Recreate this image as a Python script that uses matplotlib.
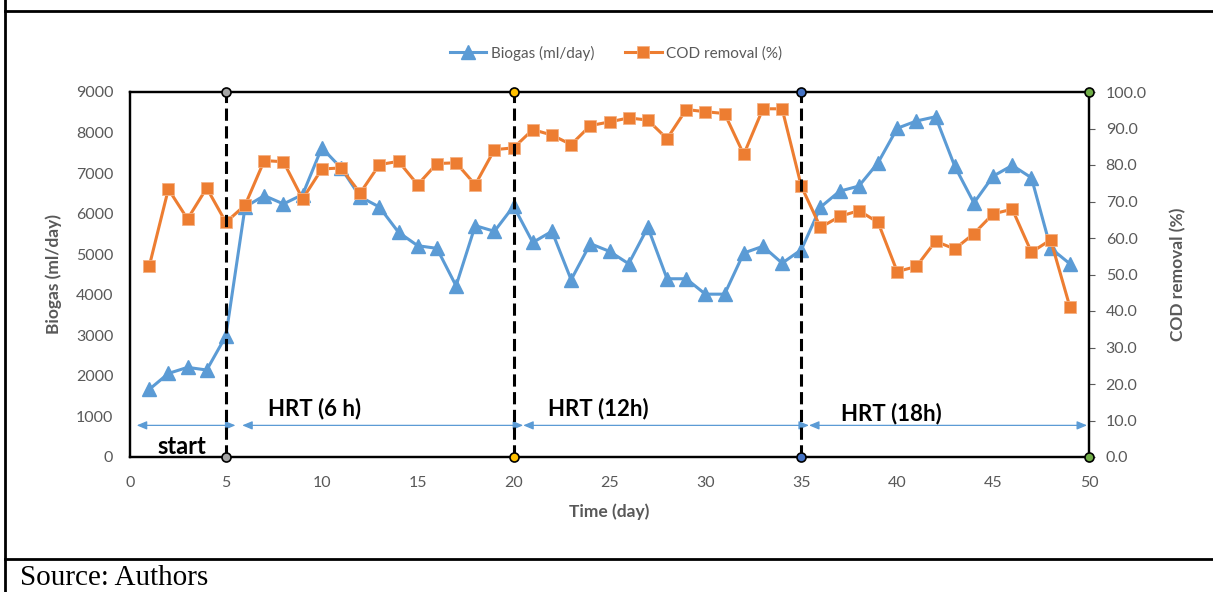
import matplotlib
matplotlib.use("Agg")
import matplotlib.pyplot as plt
from matplotlib.lines import Line2D

plt.rcParams['font.family'] = ['Lato', 'DejaVu Sans']

# ---------------- data ----------------
days = list(range(1, 50))
biogas = [1665, 2060, 2210, 2145, 2985, 6165, 6445, 6240, 6470, 7625,
          7130, 6415, 6165, 5540, 5210, 5145, 4220, 5705, 5565, 6185,
          5290, 5565, 4370, 5260, 5070, 4765, 5665, 4395, 4395, 4015,
          4015, 5030, 5195, 4780, 5110, 6160, 6555, 6680, 7255, 8105,
          8285, 8390, 7170, 6265, 6925, 7190, 6885, 5150, 4765]
cod = [52.2, 73.4, 65.2, 73.7, 64.3, 69.0, 81.2, 80.9, 70.7, 78.9,
       79.2, 72.3, 80.1, 81.0, 74.6, 80.4, 80.6, 74.6, 84.2, 84.7,
       89.7, 88.2, 85.6, 90.8, 91.8, 92.9, 92.3, 87.2, 95.2, 94.6,
       94.1, 82.9, 95.4, 95.4, 74.2, 62.9, 65.9, 67.5, 64.3, 50.8,
       52.2, 59.1, 57.0, 61.2, 66.6, 67.9, 56.1, 59.5, 41.2]

phase_days = [5, 20, 35]
phase_dot_colors = ['#A5A5A5', '#FFC000', '#4472C4', '#70AD47']
phase_dot_days = [5, 20, 35, 50]
arrow_spans = [(0.35, 5.5), (5.85, 20.5), (20.5, 35.4), (35.4, 49.9)]
arrow_level = 780
phase_labels = ['start', 'HRT (6 h)', 'HRT (12h)', 'HRT (18h)']
phase_label_pos = [(2.7, 250), (9.6, 1200), (24.4, 1200), (39.7, 1080)]

x_ticks = list(range(0, 51, 5))
y_ticks = list(range(0, 9001, 1000))
y2_ticks = [i * 10 for i in range(11)]

BLUE = '#5B9BD5'
ORANGE = '#ED7D31'
GRAY = '#595959'

W, H = 1213, 592
fig = plt.figure(figsize=(W / 100, H / 100), dpi=100)
ax = fig.add_axes([130 / W, 1 - 457 / H, (1089 - 130) / W, (457 - 92) / H])
ax2 = ax.twinx()

l1, = ax.plot(days, biogas, color=BLUE, lw=2.2, marker='^', ms=10,
              markeredgecolor=BLUE, label='Biogas (ml/day)', zorder=3)
l2, = ax2.plot(days, cod, color=ORANGE, lw=2.2, marker='s', ms=8.5,
               markeredgecolor='#F4B183', markeredgewidth=0.6,
               label='COD removal (%)', zorder=3)

ax.set_xlim(0, 50)
ax.set_ylim(0, 9000)
ax2.set_ylim(0, 100)
ax.set_xticks(x_ticks)
ax.set_yticks(y_ticks)
ax2.set_yticks(y2_ticks)
ax2.set_yticklabels([f'{v:.1f}' for v in y2_ticks])

ax.tick_params(axis='both', length=0, labelsize=11.5, labelcolor=GRAY)
ax.tick_params(axis='x', pad=14)
ax.tick_params(axis='y', pad=12)
ax2.tick_params(axis='y', length=4, width=0.8, color=GRAY, labelsize=11.5,
                labelcolor=GRAY, pad=8)

for a in (ax, ax2):
    for s in a.spines.values():
        s.set_color('black')
        s.set_linewidth(1.6)

ax.set_ylabel('Biogas (ml/day)', fontsize=12.5, fontweight='bold', color=GRAY)
ax.yaxis.set_label_coords(-0.071, 0.5)
ax2.set_ylabel('COD removal (%)', fontsize=12.5, fontweight='bold', color=GRAY)
ax2.yaxis.set_label_coords(1.084, 0.5)
ax.set_xlabel('Time (day)', fontsize=12.5, fontweight='bold', color=GRAY)
ax.xaxis.set_label_coords(0.5, -0.128)

# phase boundaries
for d in phase_days:
    ax2.axvline(d, color='black', lw=2.2, linestyle=(0, (4, 1.8)), zorder=5)
for d, c in zip(phase_dot_days, phase_dot_colors):
    ax2.plot([d, d], [0, 100], linestyle='none', marker='o', ms=6.5,
             markerfacecolor=c, markeredgecolor='black', markeredgewidth=1.2,
             clip_on=False, zorder=6)

# arrows
for x0, x1 in arrow_spans:
    ax2.annotate('', xy=(x1, arrow_level), xytext=(x0, arrow_level),
                 xycoords=ax.transData, textcoords=ax.transData,
                 arrowprops=dict(arrowstyle='<|-|>,head_length=0.6,head_width=0.25',
                                 color=BLUE, lw=0.9, shrinkA=0, shrinkB=0),
                 zorder=4)

for txt, (x, y) in zip(phase_labels, phase_label_pos):
    ax2.text(x, y, txt, transform=ax.transData, ha='center', va='center',
             fontsize=16 if txt != 'start' else 17, fontweight='bold',
             color='black', zorder=7)

fig.legend(handles=[l1, l2], loc='center', bbox_to_anchor=(616 / W, 1 - 53 / H),
           ncol=2, frameon=False, fontsize=11, labelcolor=GRAY,
           handlelength=2.4, handletextpad=0.3, columnspacing=2.0)

# document frame
fig.add_artist(Line2D([5 / W, 5 / W], [0, 1], color='black', lw=2.0))
fig.add_artist(Line2D([5 / W, 1], [1 - 11 / H, 1 - 11 / H], color='black', lw=2.0))
fig.add_artist(Line2D([5 / W, 1], [1 - 559 / H, 1 - 559 / H], color='black', lw=2.0))
fig.text(20 / W, 1 - 578 / H, 'Source: Authors', family='Liberation Serif',
         fontsize=21, va='center', ha='left', color='black')

fig.savefig('out.png', dpi=100)
